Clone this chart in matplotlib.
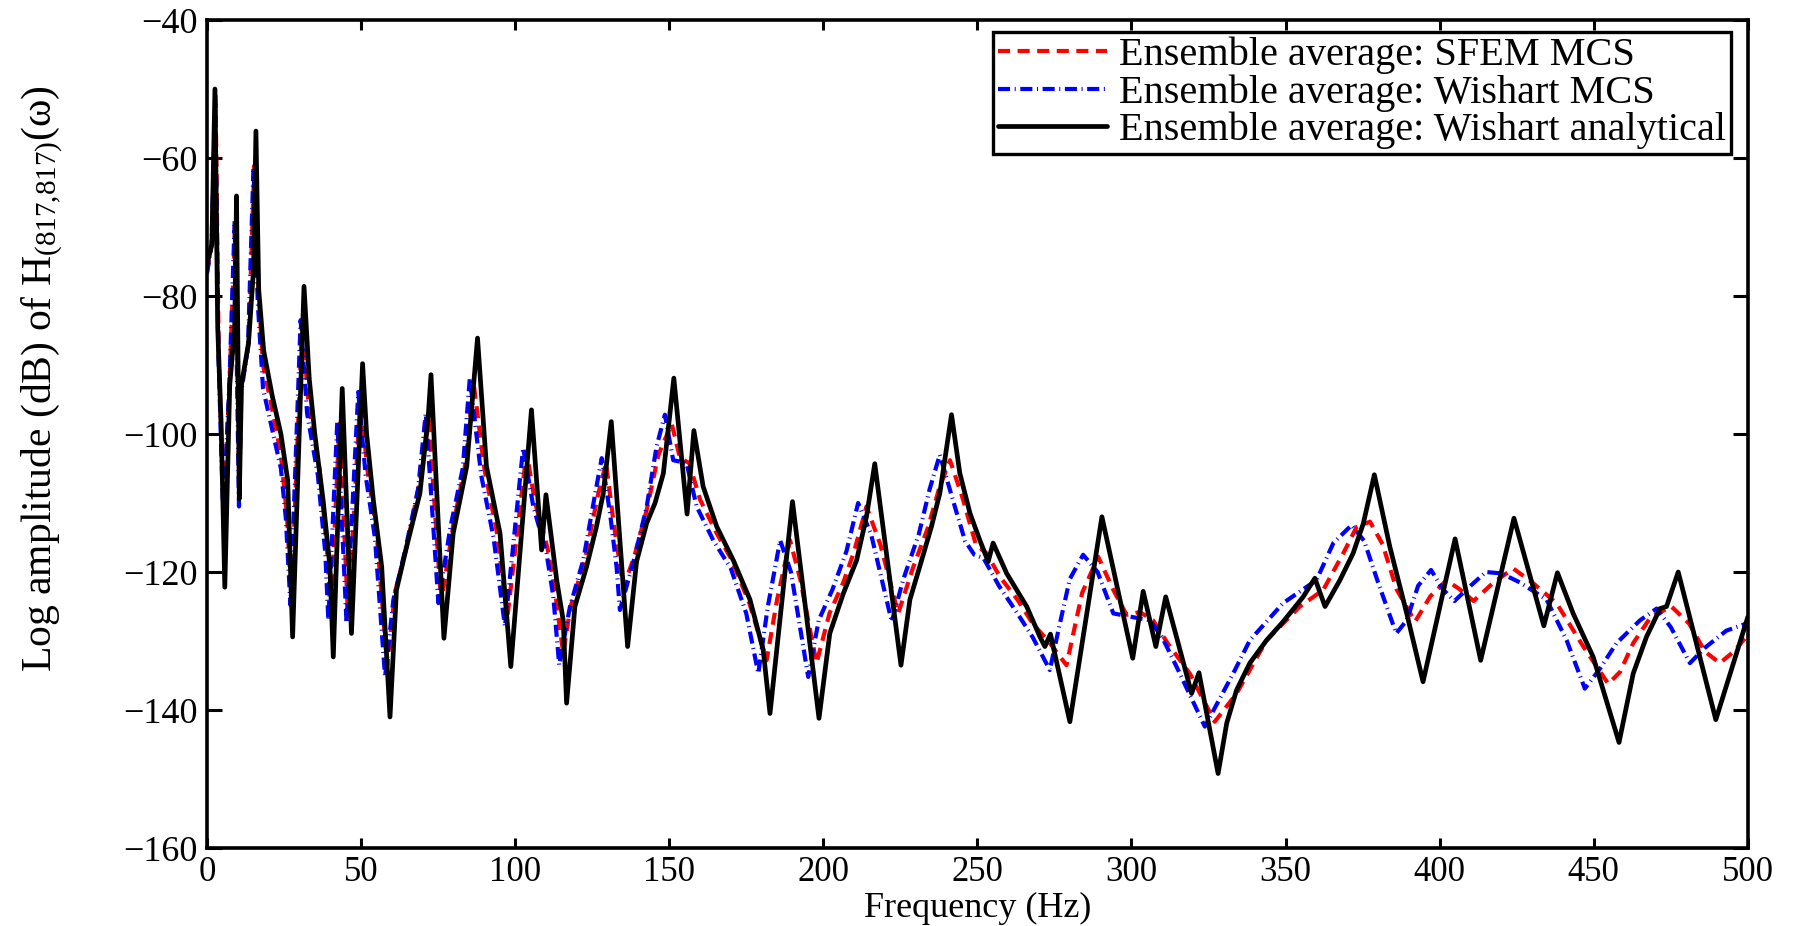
import matplotlib
matplotlib.use("Agg")
import matplotlib.pyplot as plt

plt.rcParams['font.family'] = ['Liberation Serif', 'DejaVu Serif']
plt.rcParams['mathtext.fontset'] = 'custom'
plt.rcParams['mathtext.rm'] = 'Liberation Serif'
plt.rcParams['mathtext.it'] = 'Liberation Serif:italic'
plt.rcParams['axes.unicode_minus'] = True

# ---- data (frequency in Hz, amplitude in dB) ----
freq_analytical = [0.0, 1.6, 2.6, 3.5, 4.6, 5.8, 7.4, 9.0, 9.6, 10.5, 11.2, 13.5, 15.1, 15.9,
                   16.8, 18.4, 21.2, 24.0, 26.2, 27.8, 31.5, 33.2, 35.0, 37.7, 39.9, 41.0,
                   43.9, 46.9, 50.5, 51.8, 54.0, 56.7, 59.4, 61.5, 64.8, 69.1, 71.8, 72.7,
                   76.9, 79.9, 84.3, 87.8, 90.7, 95.1, 98.6, 105.3, 108.6, 110.0, 113.5,
                   115.6, 116.7, 119.4, 123.2, 126.4, 128.6, 131.2, 136.5, 139.4, 142.7,
                   145.4, 148.1, 151.5, 155.8, 158.0, 161.0, 165.4, 170.8, 176.2, 180.5,
                   182.7, 190.0, 198.6, 202.1, 206.5, 210.8, 214.0, 216.7, 225.2, 228.1,
                   231.3, 235.1, 237.8, 241.6, 244.3, 247.6, 250.8, 253.5, 255.1, 259.5,
                   266.0, 270.3, 271.9, 273.7, 280.0, 290.4, 300.4, 303.8, 307.9, 311.1,
                   314.6, 319.5, 321.9, 328.1, 330.9, 334.1, 338.4, 343.8, 349.2, 355.7,
                   359.5, 362.8, 367.6, 371.9, 375.2, 378.8, 383.8, 389.3, 394.6, 405.0,
                   413.3, 424.1, 433.8, 438.2, 443.3, 449.8, 458.2, 462.8, 467.1, 471.5,
                   473.6, 477.4, 489.6, 500.0]
db_analytical = [-75.5, -72.5, -50.0, -84.6, -98.4, -122.2, -92.9, -84.6, -65.5, -109.4, -92.9,
                 -86.8, -76.3, -56.1, -79.1, -87.9, -94.5, -100.0, -106.7, -129.4, -78.6,
                 -92.0, -100.0, -109.6, -119.2, -132.3, -93.4, -128.9, -89.8, -99.9, -109.6,
                 -119.2, -141.0, -122.6, -116.3, -108.6, -97.5, -91.4, -129.6, -114.4,
                 -104.7, -86.1, -104.7, -114.4, -133.7, -96.5, -116.8, -108.8, -121.2,
                 -127.0, -139.0, -125.0, -119.2, -113.4, -108.6, -98.2, -130.8, -118.5,
                 -112.9, -110.0, -105.7, -91.9, -111.6, -99.5, -107.6, -113.4, -118.3,
                 -124.0, -131.3, -140.5, -109.8, -141.2, -128.9, -123.1, -118.3, -112.0,
                 -104.3, -133.5, -124.0, -119.2, -113.4, -108.6, -97.2, -105.7, -111.5,
                 -115.4, -118.5, -115.8, -120.2, -125.0, -129.4, -130.8, -129.0, -141.7,
                 -112.0, -132.5, -122.8, -130.8, -123.6, -129.4, -137.6, -134.6, -149.2,
                 -141.9, -137.1, -133.2, -129.9, -127.2, -123.6, -120.9, -125.0, -121.2,
                 -117.3, -113.0, -105.9, -116.3, -126.0, -135.9, -115.2, -132.8, -112.2,
                 -127.8, -120.1, -126.0, -132.3, -144.7, -134.7, -129.4, -125.3, -125.0,
                 -120.0, -141.4, -126.5]

freq_sfem = [0.0, 1.6, 2.8, 3.8, 5.4, 7.4, 9.1, 10.5, 11.2, 13.5, 15.4, 16.8, 18.2, 21.0,
             24.0, 26.0, 27.4, 30.9, 33.0, 36.5, 39.0, 40.2, 43.0, 45.8, 49.8, 52.0, 55.0,
             58.5, 61.0, 65.0, 69.0, 72.0, 76.0, 80.0, 84.0, 86.5, 90.0, 94.0, 97.5, 103.7,
             106.5, 110.5, 113.0, 115.6, 118.0, 122.5, 126.8, 129.5, 132.0, 135.1, 138.5,
             142.7, 146.5, 150.8, 153.5, 156.5, 160.0, 165.4, 170.0, 176.0, 181.6, 185.0,
             189.2, 192.5, 197.8, 202.0, 206.5, 210.0, 214.0, 218.5, 224.3, 229.0, 234.0,
             237.5, 241.1, 245.0, 249.5, 253.0, 257.3, 263.0, 268.0, 273.0, 278.9, 284.0,
             289.2, 294.0, 298.4, 302.7, 307.0, 312.0, 318.9, 327.0, 334.1, 343.8, 354.6,
             362.2, 368.7, 373.0, 377.4, 381.5, 386.0, 392.0, 397.0, 402.2, 406.5, 411.0,
             417.5, 423.9, 430.0, 437.9, 446.6, 454.7, 458.5, 462.8, 468.5, 475.2, 481.0,
             486.0, 490.9, 495.5, 500.0]
db_sfem = [-76.5, -72.5, -51.0, -88.0, -111.0, -92.0, -70.0, -108.0, -93.0, -87.0, -60.5,
           -80.0, -90.0, -96.0, -103.0, -112.0, -124.0, -83.5, -96.0, -105.0, -117.0, -126.0,
           -98.5, -126.5, -94.5, -105.0, -114.0, -133.5, -123.0, -116.0, -107.0, -98.0,
           -124.5, -113.0, -104.0, -92.5, -105.0, -114.0, -126.5, -102.6, -110.0, -116.5,
           -123.0, -131.8, -125.0, -118.5, -109.0, -104.2, -113.0, -122.2, -118.0, -111.0,
           -103.0, -98.5, -103.5, -104.2, -109.5, -114.4, -118.0, -124.5, -132.8, -124.0,
           -115.4, -121.0, -133.2, -126.0, -121.5, -117.0, -110.5, -116.0, -126.0, -119.5,
           -113.5, -108.0, -103.8, -109.0, -116.0, -117.3, -120.7, -124.0, -127.5, -130.0,
           -133.5, -123.0, -117.8, -122.5, -126.2, -125.8, -127.0, -130.5, -134.7, -141.7,
           -137.6, -129.9, -125.0, -122.6, -117.3, -113.5, -112.7, -116.0, -122.5, -127.2,
           -123.5, -121.2, -122.5, -124.2, -121.5, -119.5, -121.5, -124.5, -130.8, -136.2,
           -134.5, -130.3, -126.5, -125.0, -127.5, -131.5, -133.2, -131.5, -129.1]

freq_wishart = [0.0, 1.5, 2.7, 3.7, 5.3, 7.3, 9.0, 10.4, 11.1, 13.3, 15.1, 16.5, 18.2, 21.0,
                24.0, 25.6, 27.1, 30.4, 32.5, 36.0, 38.4, 39.4, 42.3, 45.3, 49.1, 51.5, 54.5,
                57.8, 60.5, 64.5, 68.5, 71.0, 75.1, 79.0, 83.0, 85.3, 89.0, 93.0, 96.7, 102.6,
                105.9, 110.2, 112.4, 114.3, 117.8, 122.1, 126.4, 128.1, 130.8, 132.9, 134.0,
                138.3, 142.7, 145.9, 148.6, 151.3, 155.6, 158.9, 164.3, 170.0, 175.0, 178.9,
                182.0, 186.0, 189.5, 195.1, 198.5, 203.0, 207.5, 211.3, 215.5, 222.2, 226.0,
                231.0, 234.5, 237.8, 242.0, 246.0, 249.0, 252.0, 257.0, 263.0, 268.0, 273.5,
                276.5, 280.0, 284.3, 289.0, 294.1, 300.0, 306.0, 310.0, 314.6, 323.8, 333.0,
                338.4, 349.2, 355.7, 360.0, 365.5, 371.4, 375.5, 380.0, 385.9, 389.3, 393.0,
                397.2, 401.0, 404.8, 410.0, 415.0, 420.0, 426.0, 434.7, 441.2, 447.1, 452.0,
                457.4, 465.0, 470.4, 475.0, 481.2, 486.0, 493.0, 500.0]
db_wishart = [-76.8, -72.5, -52.0, -88.0, -112.0, -92.5, -69.1, -110.5, -94.0, -87.5, -61.4,
              -81.0, -93.4, -99.0, -105.0, -112.2, -124.8, -83.5, -97.0, -106.0, -117.2,
              -127.0, -98.2, -127.4, -93.9, -106.0, -115.0, -135.2, -124.0, -116.5, -108.0,
              -97.0, -124.5, -113.5, -105.0, -91.9, -106.0, -115.0, -127.9, -102.0, -110.5,
              -117.3, -123.6, -133.5, -125.0, -118.3, -107.6, -103.5, -111.5, -119.2, -125.5,
              -118.7, -110.5, -101.8, -97.2, -103.8, -104.2, -110.5, -115.4, -119.5, -126.0,
              -134.7, -125.0, -115.4, -120.0, -135.2, -127.0, -122.5, -117.0, -110.0, -114.5,
              -127.2, -121.0, -114.5, -108.0, -103.0, -109.5, -115.5, -117.5, -118.0, -122.0,
              -126.0, -129.5, -134.2, -128.0, -121.0, -117.5, -120.0, -126.0, -126.5, -127.0,
              -129.5, -133.7, -142.4, -134.7, -129.9, -124.5, -122.5, -121.2, -115.8, -113.2,
              -115.5, -121.5, -128.9, -127.0, -122.0, -119.7, -122.5, -124.2, -122.0, -120.0,
              -120.2, -121.5, -124.0, -129.9, -136.9, -134.0, -130.3, -127.0, -125.3, -128.0,
              -133.2, -131.0, -128.5, -127.4]

series_labels = ['Ensemble average: SFEM MCS',
                 'Ensemble average: Wishart MCS',
                 'Ensemble average: Wishart analytical']
x_ticks = [0, 50, 100, 150, 200, 250, 300, 350, 400, 450, 500]
y_ticks = [-160, -140, -120, -100, -80, -60, -40]

# ---- figure ----
fig = plt.figure(figsize=(18.01, 9.26), dpi=100)
ax = fig.add_axes([0.1149, 0.0842, 0.8556, 0.8942])

ax.plot(freq_sfem, db_sfem, color='#ff0000', lw=3.0,
        linestyle=(0, (2.9, 1.8)), label=series_labels[0])
ax.plot(freq_wishart, db_wishart, color='#0000ff', lw=3.0,
        linestyle=(0, (2.9, 1.1, 0.25, 1.1)), label=series_labels[1])
ax.plot(freq_analytical, db_analytical, color='black', lw=3.4,
        solid_joinstyle='round', solid_capstyle='round', label=series_labels[2])

ax.set_xlim(0, 500)
ax.set_ylim(-160, -40)
ax.set_xticks(x_ticks)
ax.set_yticks(y_ticks)
ax.set_yticklabels(['\u2212%d' % abs(v) for v in y_ticks])

for s in ax.spines.values():
    s.set_linewidth(2.6)
ax.tick_params(axis='both', which='major', direction='in', top=True, right=True,
               width=2.2)
ax.tick_params(axis='y', length=11, pad=7, labelsize=26)
ax.tick_params(axis='x', length=7, pad=6, labelsize=25)

ax.set_xlabel('Frequency (Hz)', fontsize=26)
ax.xaxis.label.set_va('bottom')
ax.xaxis.set_label_coords(0.5, (1 - 78) / 828)

fig.text(42 / 1801, 1 - 379 / 926,
         r'Log amplitude (dB) of H$_{\mathrm{(817{,}817)}}$(ω)',
         rotation=90, ha='center', va='center', fontsize=30)

leg = ax.legend(loc='upper right', bbox_to_anchor=(0.989, 0.9855), borderaxespad=0,
                fontsize=29, handlelength=2.7, handletextpad=0.3, labelspacing=0.0,
                borderpad=0.12, fancybox=False, framealpha=1, edgecolor='black')
leg.get_frame().set_linewidth(2.4)

fig.savefig('out.png', dpi=100)
